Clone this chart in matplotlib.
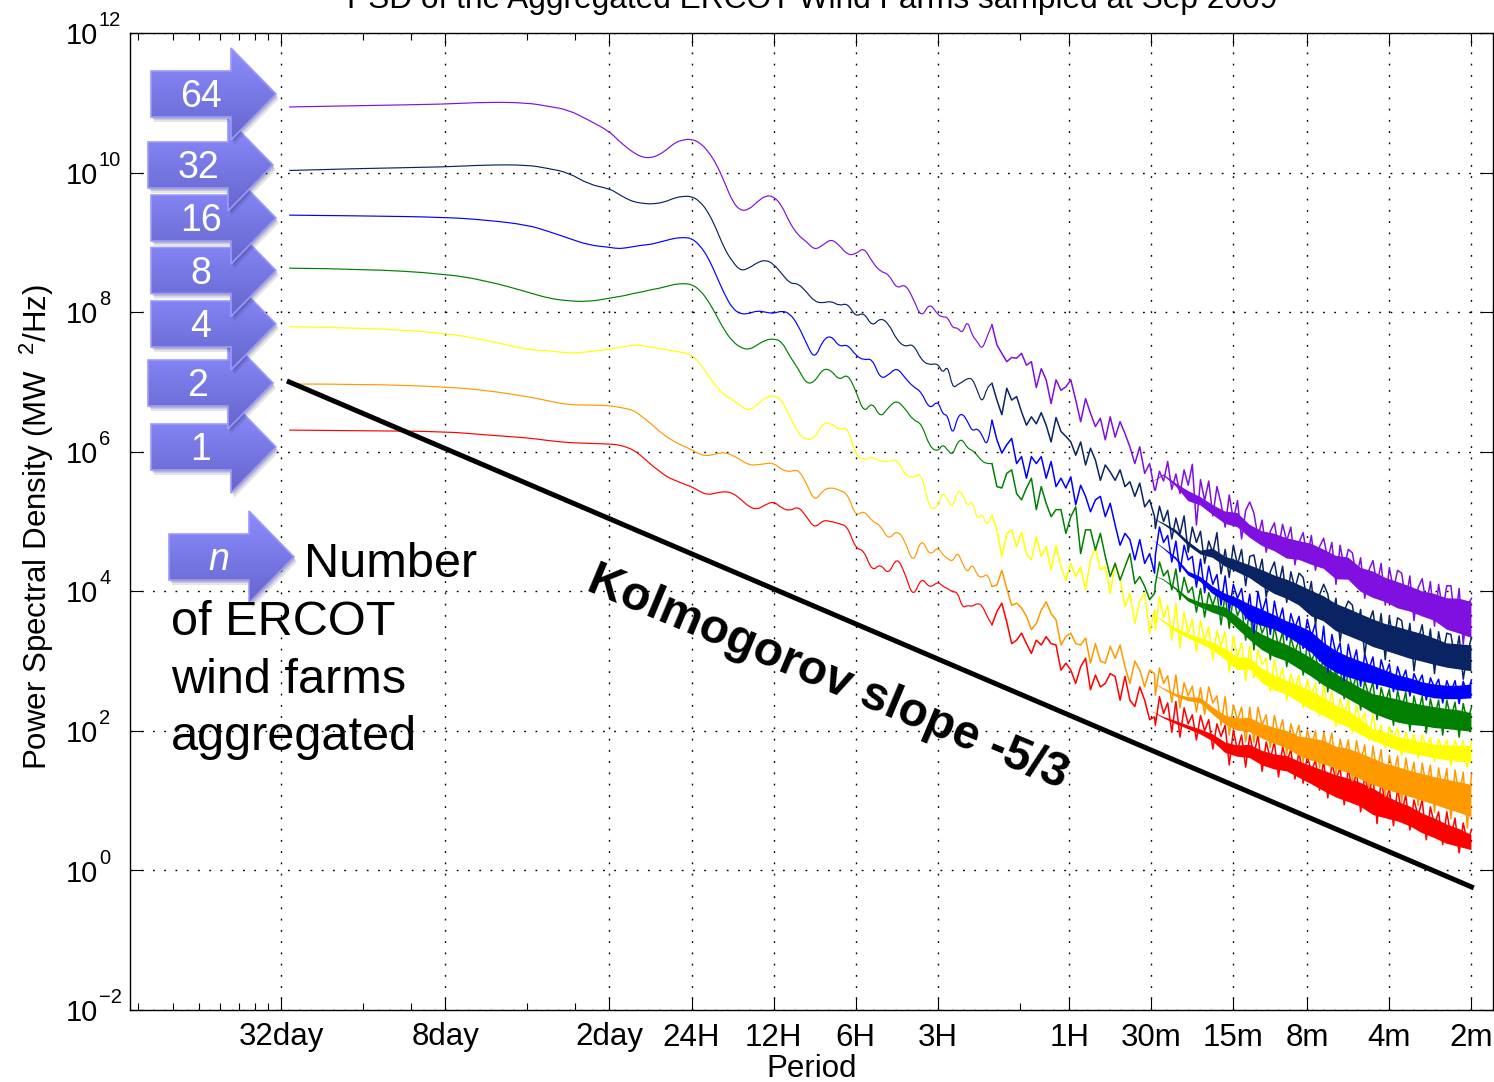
import matplotlib
matplotlib.use('Agg')
import matplotlib.pyplot as plt
import numpy as np
from matplotlib.patches import Polygon, PathPatch
from matplotlib.path import Path
from matplotlib.colors import LinearSegmentedColormap
from matplotlib.ticker import NullLocator

plt.rcParams['font.family'] = ['Liberation Sans', 'DejaVu Sans']
plt.rcParams['mathtext.fontset'] = 'custom'
plt.rcParams['mathtext.rm'] = 'Liberation Sans'

# x is octaves above the 32 day period, psd values are log10(MW^2/Hz)
octave_left = [0.1, 1, 2, 2.5, 3, 3.25, 3.5, 3.75]
octave_mid = np.round(np.arange(40) * 0.1 + 4.0, 2)
octave_fine = np.round(np.arange(45) * 0.06 + 8.0, 2)
octave_noise = np.round(np.arange(78) * 0.05 + 10.65, 2)
octave_band = np.round(np.arange(27) * 0.15 + 10.6, 2)

psd_64 = [10.94, 10.96, 10.98, 11.01, 11.0, 10.95, 10.9, 10.75,
          10.59, 10.47, 10.37, 10.28, 10.22, 10.21, 10.25, 10.33, 10.43, 10.47,
          10.48, 10.43, 10.31, 10.13, 9.87, 9.58, 9.45, 9.47, 9.58, 9.67,
          9.66, 9.53, 9.27, 9.10, 9.01, 8.89, 8.96, 9.05, 8.96, 8.82,
          8.83, 8.93, 8.72, 8.58, 8.55, 8.33, 8.41, 8.20, 7.91, 8.14,
          7.96, 7.93, 7.93, 7.77, 7.78, 7.69, 7.89, 7.66, 7.58, 7.46, 7.65, 7.82,
          7.53, 7.41, 7.29, 7.35, 7.34, 7.41, 7.24, 7.29, 6.92, 7.19, 7.03, 6.69,
          7.03, 6.88, 6.93, 7.03, 6.74, 6.43, 6.76, 6.55, 6.36, 6.48, 6.17, 6.50,
          6.21, 6.43, 6.26, 6.07, 5.83, 6.07, 5.69, 5.83, 5.45]
psd_32 = [10.03, 10.06, 10.08, 10.11, 10.11, 10.06, 10.0, 9.83,
          9.77, 9.70, 9.63, 9.58, 9.56, 9.55, 9.56, 9.59, 9.64, 9.66,
          9.66, 9.59, 9.44, 9.20, 8.91, 8.72, 8.59, 8.63, 8.71, 8.75,
          8.69, 8.55, 8.41, 8.41, 8.29, 8.15, 8.13, 8.16, 8.09, 8.13,
          7.93, 8.0, 7.79, 7.92, 7.84, 7.60, 7.50, 7.55, 7.31, 7.24,
          7.27, 7.12, 7.24, 6.91, 6.96, 7.00, 7.05, 7.05, 6.88, 6.69, 6.92, 6.98,
          6.74, 6.53, 6.91, 6.74, 6.79, 6.57, 6.38, 6.50, 6.40, 6.56, 6.38, 6.14,
          6.49, 6.29, 6.22, 6.14, 5.95, 6.14, 5.81, 6.05, 5.88, 5.59, 5.81, 5.71,
          5.59, 5.74, 5.50, 5.57, 5.36, 5.55, 5.21, 5.31, 5.07]
psd_16 = [9.39, 9.38, 9.36, 9.32, 9.25, 9.16, 9.06, 8.96,
          8.93, 8.91, 8.92, 8.94, 8.96, 8.97, 9.0, 9.03, 9.06, 9.07,
          9.06, 8.96, 8.79, 8.53, 8.26, 8.05, 7.97, 7.98, 8.02, 8.0,
          7.98, 8.02, 7.98, 7.81, 7.55, 7.32, 7.60, 7.67, 7.50, 7.54,
          7.38, 7.31, 7.34, 7.04, 7.10, 7.21, 7.06, 6.93, 6.86, 6.60,
          6.74, 6.53, 6.53, 6.22, 6.50, 6.55, 6.44, 6.29, 6.34, 6.24, 6.07, 6.45,
          6.17, 5.98, 6.10, 6.19, 5.83, 5.93, 5.62, 5.93, 5.83, 5.93, 5.62, 5.86,
          5.50, 5.62, 5.48, 5.64, 5.24, 5.52, 5.36, 5.14, 5.31, 5.36, 5.07, 5.26,
          4.95, 4.66, 4.83, 4.74, 4.45, 4.74, 4.40, 4.54, 4.26]
psd_8 = [8.63, 8.62, 8.55, 8.45, 8.29, 8.20, 8.16, 8.15,
         8.20, 8.22, 8.24, 8.27, 8.29, 8.32, 8.34, 8.37, 8.40, 8.41,
         8.40, 8.32, 8.17, 7.96, 7.74, 7.58, 7.49, 7.46, 7.53, 7.60,
         7.62, 7.58, 7.36, 7.19, 6.97, 7.0, 7.19, 7.17, 7.02, 7.12,
         6.88, 6.55, 6.72, 6.48, 6.64, 6.74, 6.62, 6.45, 6.41, 6.07,
         6.0, 6.11, 6.02, 5.95, 6.14, 6.18, 6.05, 6.02, 5.95, 5.86, 5.83, 5.83,
         5.50, 5.48, 5.69, 5.74, 5.40, 5.31, 5.48, 5.62, 5.17, 5.50, 5.26, 5.07,
         5.17, 5.17, 4.83, 5.07, 5.21, 4.54, 4.88, 4.88, 4.59, 4.83, 4.50, 4.21,
         4.40, 4.16, 4.35, 4.54, 4.11, 4.21, 4.07, 3.88, 3.97]
psd_4 = [7.79, 7.78, 7.70, 7.60, 7.46, 7.45, 7.41, 7.43,
         7.47, 7.49, 7.51, 7.53, 7.52, 7.50, 7.48, 7.46, 7.44, 7.42,
         7.39, 7.27, 7.10, 6.93, 6.81, 6.75, 6.65, 6.59, 6.67, 6.78,
         6.81, 6.74, 6.50, 6.26, 6.17, 6.19, 6.41, 6.41, 6.31, 6.36,
         5.95, 5.88, 5.93, 5.86, 5.86, 5.90, 5.67, 5.62, 5.71, 5.16,
         5.21, 5.43, 5.31, 5.19, 5.45, 5.41, 5.21, 5.31, 5.02, 5.12, 4.93, 5.09,
         4.88, 4.50, 4.83, 4.88, 4.64, 4.85, 4.54, 4.45, 4.78, 4.50, 4.64, 4.31,
         4.66, 4.35, 4.16, 4.40, 4.21, 4.35, 4.02, 4.45, 4.62, 4.31, 4.35, 3.97,
         4.40, 4.19, 3.78, 3.97, 3.54, 3.87, 3.97, 3.40, 3.73]
psd_2 = [6.97, 6.97, 6.93, 6.88, 6.79, 6.73, 6.67, 6.67,
         6.66, 6.64, 6.62, 6.59, 6.50, 6.41, 6.30, 6.21, 6.14, 6.08,
         6.03, 5.96, 5.94, 5.97, 5.99, 5.95, 5.88, 5.81, 5.81, 5.83,
         5.84, 5.74, 5.71, 5.75, 5.55, 5.28, 5.45, 5.49, 5.45, 5.40,
         5.07, 5.16, 5.0, 4.95, 4.73, 4.88, 4.73, 4.38, 4.78, 4.50,
         4.64, 4.52, 4.47, 4.42, 4.57, 4.40, 4.26, 4.40, 4.23, 4.19, 4.26, 4.07,
         4.09, 4.30, 4.04, 3.80, 3.83, 3.76, 3.64, 3.45, 3.54, 3.73, 3.85, 3.68,
         3.59, 3.23, 3.35, 3.40, 3.25, 3.23, 3.33, 2.97, 3.25, 3.0, 2.97, 3.21,
         3.04, 3.23, 2.92, 2.68, 3.0, 2.87, 2.63, 2.87, 2.82]
psd_1 = [6.31, 6.30, 6.29, 6.24, 6.20, 6.16, 6.13, 6.12,
         6.11, 6.10, 6.07, 6.02, 5.93, 5.82, 5.73, 5.64, 5.59, 5.54,
         5.50, 5.43, 5.38, 5.41, 5.43, 5.41, 5.32, 5.21, 5.17, 5.24,
         5.29, 5.19, 5.15, 5.22, 5.07, 4.90, 5.02, 5.0, 4.97, 4.93,
         4.61, 4.59, 4.28, 4.40, 4.23, 4.50, 4.26, 3.90, 4.21, 4.04,
         4.14, 4.07, 4.04, 3.99, 3.99, 3.76, 3.80, 3.78, 3.83, 3.80, 3.64, 3.52,
         3.71, 3.83, 3.56, 3.25, 3.30, 3.40, 3.25, 3.11, 3.30, 3.23, 3.35, 3.25,
         3.23, 2.87, 2.97, 2.87, 2.68, 2.92, 3.04, 2.59, 2.80, 2.63, 2.68, 2.82,
         2.78, 2.44, 2.78, 2.44, 2.35, 2.63, 2.44, 2.16, 2.20]

# fast end of each spectrum, estimated swing by swing
noise_64 = [5.45, 5.72, 5.58, 5.86, 5.46, 5.68, 5.40, 5.74, 5.52, 5.82, 4.95, 5.60,
            5.30, 5.58, 5.08, 5.50, 5.26, 4.92, 5.38, 5.02, 5.30, 4.75, 5.16, 5.28,
            5.12, 4.78, 5.02, 4.56, 4.86, 4.98, 4.62, 4.96, 4.72, 4.92, 4.38, 4.70,
            4.84, 4.48, 4.80, 4.30, 4.64, 4.76, 4.46, 4.70, 4.10, 4.66, 4.34, 4.60,
            4.55, 4.20, 4.48, 3.90, 4.30, 4.44, 4.10, 4.40, 3.80, 4.34, 4.02, 4.30,
            4.26, 3.86, 4.22, 3.58, 4.05, 4.18, 3.80, 4.14, 3.50, 4.10, 3.72, 4.08,
            4.08, 3.56, 4.04, 3.24, 3.78, 3.90]
noise_32 = [4.90, 5.22, 5.00, 5.16, 4.75, 5.05, 4.82, 5.08, 4.56, 4.92, 4.70, 4.86,
            4.40, 4.72, 4.55, 4.84, 4.25, 4.60, 4.20, 4.66, 4.38, 4.60, 4.08, 4.50,
            4.52, 4.22, 4.46, 3.92, 4.28, 4.42, 4.08, 4.36, 3.84, 4.28, 4.04, 4.26,
            4.20, 3.85, 4.14, 3.52, 3.95, 4.10, 3.96, 3.60, 3.90, 3.28, 3.72, 3.86,
            3.80, 3.40, 3.74, 3.08, 3.55, 3.72, 3.30, 3.68, 3.02, 3.64, 3.25, 3.62,
            3.58, 3.15, 3.54, 2.86, 3.30, 3.52, 3.05, 3.46, 2.82, 3.42, 3.10, 3.40,
            3.38, 3.02, 3.36, 2.74, 3.10, 3.34]
noise_16 = [4.52, 4.92, 4.70, 4.80, 4.42, 4.72, 4.28, 4.66, 4.45, 4.50, 4.06, 4.46,
            3.98, 4.36, 4.10, 4.24, 3.80, 4.22, 3.72, 4.10, 3.90, 4.04, 3.60, 3.96,
            3.40, 4.00, 3.70, 3.90, 3.38, 3.86, 3.55, 3.76, 3.30, 3.68, 3.48, 3.64,
            3.18, 3.60, 3.35, 3.54, 3.00, 3.50, 2.84, 3.38, 3.10, 3.26, 2.72, 3.24,
            2.95, 3.16, 2.64, 3.10, 2.88, 3.06, 2.60, 3.02, 2.80, 2.96, 2.56, 2.92,
            2.72, 2.87, 2.50, 2.82, 2.68, 2.80, 2.44, 2.76, 2.62, 2.74, 2.40, 2.72,
            2.55, 2.72, 2.39, 2.71, 2.52, 2.73]
noise_8 = [4.10, 4.42, 4.22, 4.30, 4.02, 4.32, 3.88, 4.20, 3.98, 4.06, 3.70, 4.04,
           3.63, 3.98, 3.80, 3.99, 3.52, 3.96, 3.47, 3.93, 3.65, 3.80, 3.30, 3.78,
           3.16, 3.63, 3.40, 3.54, 3.02, 3.50, 3.20, 3.42, 2.92, 3.34, 3.12, 3.32,
           2.80, 3.24, 3.00, 3.14, 2.68, 3.12, 2.56, 3.02, 2.78, 2.92, 2.46, 2.88,
           2.60, 2.80, 2.30, 2.72, 2.50, 2.70, 2.16, 2.62, 2.40, 2.60, 2.08, 2.58,
           2.30, 2.56, 2.00, 2.50, 2.24, 2.50, 1.97, 2.46, 2.20, 2.44, 1.94, 2.44,
           2.18, 2.41, 1.91, 2.39, 2.12, 2.34]
noise_4 = [3.45, 3.92, 3.62, 3.80, 3.30, 3.83, 3.19, 3.70, 3.40, 3.60, 3.13, 3.58,
           3.30, 3.49, 3.02, 3.44, 3.22, 3.42, 2.84, 3.36, 3.05, 3.26, 2.72, 3.22,
           2.76, 3.16, 2.95, 3.04, 2.56, 3.02, 2.70, 2.90, 2.44, 2.82, 2.60, 2.80,
           2.33, 2.73, 2.50, 2.68, 2.21, 2.66, 2.30, 2.56, 2.06, 2.46, 2.25, 2.44,
           1.97, 2.36, 2.12, 2.26, 1.87, 2.24, 1.92, 2.08, 1.76, 2.06, 1.90, 2.04,
           1.65, 1.98, 1.80, 1.95, 1.61, 1.94, 1.76, 1.90, 1.56, 1.88, 1.72, 1.87,
           1.51, 1.86, 1.70, 1.86, 1.47, 1.85]
noise_2 = [2.51, 2.90, 2.68, 2.79, 2.41, 2.80, 2.33, 2.69, 2.50, 2.64, 2.27, 2.62,
           2.24, 2.63, 2.40, 2.50, 2.08, 2.49, 1.94, 2.37, 2.15, 2.34, 1.84, 2.34,
           1.83, 2.34, 2.08, 2.23, 1.76, 2.22, 1.95, 2.16, 1.67, 2.10, 1.90, 2.08,
           1.55, 2.01, 1.78, 2.00, 1.47, 1.98, 1.70, 1.97, 1.38, 1.88, 1.62, 1.87,
           1.28, 1.86, 1.55, 1.80, 1.18, 1.78, 1.40, 1.73, 1.06, 1.65, 1.35, 1.64,
           0.98, 1.61, 1.28, 1.55, 0.93, 1.54, 1.20, 1.51, 0.84, 1.47, 1.12, 1.46,
           0.74, 1.44, 1.05, 1.41, 0.61, 1.38]
noise_1 = [2.08, 2.49, 2.25, 2.40, 1.98, 2.42, 1.91, 2.33, 2.10, 2.23, 1.87, 2.22,
           2.00, 2.16, 1.74, 2.10, 1.92, 2.08, 1.51, 2.01, 1.72, 1.94, 1.48, 1.94,
           1.65, 1.94, 1.42, 1.84, 1.60, 1.84, 1.34, 1.77, 1.55, 1.73, 1.31, 1.72,
           1.25, 1.64, 1.42, 1.58, 1.15, 1.58, 1.04, 1.53, 1.30, 1.47, 0.94, 1.47,
           1.12, 1.43, 0.84, 1.37, 1.08, 1.36, 0.67, 1.30, 0.95, 1.18, 0.64, 1.18,
           0.82, 1.08, 0.58, 1.01, 0.78, 1.01, 0.44, 0.91, 0.65, 0.84, 0.37, 0.84,
           0.48, 0.75, 0.25, 0.68, 0.40, 0.58]

# top and bottom of the noisy band
upper_64 = [5.74, 5.88, 5.74, 5.85, 5.59, 5.45, 5.35, 5.31, 5.09, 4.99, 4.95, 4.88, 4.81, 4.78,
            4.69, 4.62, 4.59, 4.45, 4.41, 4.31, 4.26, 4.19, 4.12, 4.09, 4.05, 4.06, 4.02]
lower_64 = [5.38, 5.45, 5.31, 4.88, 4.99, 4.88, 4.76, 4.73, 4.63, 4.52, 4.45, 4.35, 4.36, 4.28,
            4.23, 4.06, 4.06, 3.88, 3.78, 3.73, 3.63, 3.59, 3.52, 3.45, 3.30, 3.23, 3.16]
upper_32 = [5.24, 5.19, 5.09, 4.88, 4.69, 4.81, 4.66, 4.59, 4.51, 4.45, 4.36, 4.28, 4.19, 4.13,
            4.05, 3.95, 3.88, 3.80, 3.73, 3.66, 3.62, 3.57, 3.52, 3.45, 3.37, 3.36, 3.35]
lower_32 = [4.88, 4.74, 4.62, 4.49, 4.42, 4.28, 4.19, 4.12, 4.05, 3.92, 3.83, 3.78, 3.70, 3.52,
            3.45, 3.30, 3.23, 3.16, 3.07, 3.02, 2.96, 2.90, 2.86, 2.82, 2.79, 2.76, 2.73]
upper_16 = [4.95, 4.78, 4.66, 4.45, 4.35, 4.23, 4.09, 4.03, 3.99, 3.88, 3.76, 3.66, 3.59, 3.52,
            3.37, 3.25, 3.16, 3.09, 3.02, 2.94, 2.87, 2.82, 2.76, 2.73, 2.71, 2.71, 2.73]
lower_16 = [4.55, 4.45, 4.28, 4.06, 3.99, 3.80, 3.73, 3.63, 3.39, 3.36, 3.35, 3.27, 3.16, 3.02,
            2.84, 2.73, 2.67, 2.62, 2.59, 2.56, 2.51, 2.49, 2.44, 2.40, 2.39, 2.39, 2.40]
upper_8 = [4.42, 4.31, 4.19, 4.06, 3.98, 3.98, 3.93, 3.80, 3.63, 3.52, 3.42, 3.33, 3.23, 3.13,
           3.02, 2.90, 2.80, 2.70, 2.62, 2.59, 2.56, 2.51, 2.47, 2.44, 2.41, 2.39, 2.34]
lower_8 = [4.06, 4.02, 3.88, 3.70, 3.63, 3.52, 3.47, 3.30, 3.16, 3.02, 2.94, 2.90, 2.80, 2.69,
           2.56, 2.47, 2.37, 2.27, 2.16, 2.08, 2.01, 1.98, 1.97, 1.94, 1.93, 1.91, 1.90]
upper_4 = [3.95, 3.83, 3.70, 3.59, 3.49, 3.43, 3.36, 3.23, 3.16, 3.02, 2.90, 2.80, 2.73, 2.66,
           2.56, 2.44, 2.36, 2.24, 2.08, 2.04, 1.98, 1.94, 1.90, 1.87, 1.86, 1.86, 1.86]
lower_4 = [3.45, 3.30, 3.19, 3.13, 3.09, 2.99, 2.84, 2.70, 2.76, 2.56, 2.47, 2.44, 2.33, 2.21,
           2.13, 2.04, 1.97, 1.87, 1.80, 1.73, 1.65, 1.61, 1.58, 1.54, 1.51, 1.48, 1.47]
upper_2 = [2.90, 2.79, 2.69, 2.64, 2.63, 2.49, 2.37, 2.34, 2.34, 2.23, 2.16, 2.10, 2.01, 2.0,
           1.97, 1.88, 1.86, 1.80, 1.73, 1.65, 1.61, 1.55, 1.51, 1.47, 1.44, 1.41, 1.38]
lower_2 = [2.51, 2.41, 2.33, 2.27, 2.24, 2.08, 1.94, 1.84, 1.83, 1.76, 1.70, 1.65, 1.55, 1.47,
           1.41, 1.35, 1.28, 1.18, 1.10, 1.04, 0.98, 0.93, 0.87, 0.81, 0.74, 0.68, 0.61]
upper_1 = [2.49, 2.40, 2.33, 2.23, 2.16, 2.10, 2.01, 1.94, 1.94, 1.84, 1.77, 1.73, 1.64, 1.58,
           1.53, 1.47, 1.43, 1.37, 1.30, 1.18, 1.08, 1.01, 0.91, 0.84, 0.75, 0.68, 0.58]
lower_1 = [2.08, 1.98, 1.91, 1.87, 1.81, 1.70, 1.51, 1.48, 1.47, 1.38, 1.34, 1.33, 1.25, 1.15,
           1.04, 0.94, 0.87, 0.80, 0.67, 0.64, 0.61, 0.54, 0.44, 0.37, 0.29, 0.25, 0.22]

kolmogorov_octave = [0.1, 14.5]
kolmogorov_psd = [7.0, -0.236]

farm_counts = ['1', '2', '4', '8', '16', '32', '64']
line_colors = ['#ff0000', '#ff9900', '#ffff00', '#007f00', '#0000ff', '#0a2463', '#7f10e0']
lines = [psd_1, psd_2, psd_4, psd_8, psd_16, psd_32, psd_64]
noises = [noise_1, noise_2, noise_4, noise_8, noise_16, noise_32, noise_64]
uppers = [upper_1, upper_2, upper_4, upper_8, upper_16, upper_32, upper_64]
lowers = [lower_1, lower_2, lower_4, lower_8, lower_16, lower_32, lower_64]

tick_octaves = [0, 2, 4, 5, 6, 7, 8, 9.6, 10.6, 11.6, 12.5, 13.5, 14.5]
tick_labels = ['32day', '8day', '2day', '24H', '12H', '6H', '3H', '1H', '30m', '15m', '8m', '4m', '2m']
minor_octaves = [-1.74, -1.32, -1.0, -0.74, -0.51, -0.32, -0.16, 1, 1.585, 3, 3.585, 9.0]
decades = list(range(-2, 13, 2))

W, H = 1494, 1082
N_SMOOTH = 8 + 40 + 12  # round curve up to about 2H, plain line after that


def to_x(octave):
    return 2.0 ** np.asarray(octave, dtype=float)


def smooth_path(octave, psd):
    # quadratic bezier through the midpoints, keeps the slow part of the curve round
    px = np.asarray(octave, dtype=float)
    py = np.asarray(psd, dtype=float)
    verts = [(px[0], py[0])]
    codes = [Path.MOVETO]
    for i in range(1, len(px) - 1):
        verts.append((px[i], py[i]))
        verts.append(((px[i] + px[i + 1]) / 2, (py[i] + py[i + 1]) / 2))
        codes += [Path.CURVE3, Path.CURVE3]
    verts.append((px[-1], py[-1]))
    codes.append(Path.LINETO)
    verts = np.array(verts)
    return Path(np.column_stack([to_x(verts[:, 0]), 10.0 ** verts[:, 1]]), codes)


def draw_arrow(ov, left, cy, label, base_z, italic=False):
    # body 80 wide, 46 high, head runs 46 past it
    pts = [(left, cy - 23), (left + 80, cy - 23), (left + 80, cy - 46), (left + 125, cy),
           (left + 80, cy + 46), (left + 80, cy + 23), (left, cy + 23)]
    for off in [(1, 2), (2, 3), (3, 5)]:
        ov.add_patch(Polygon([(x + off[0], y + off[1]) for x, y in pts], closed=True, fc='#20204a',
                             ec='none', alpha=0.12, zorder=base_z))
    grad = np.linspace(0, 1, 64).reshape(-1, 1)
    cmap = LinearSegmentedColormap.from_list('arrow', ['#8c8cff', '#6666cc'])
    im = ov.imshow(grad, extent=(left, left + 125, cy + 46, cy - 46), aspect='auto', zorder=base_z + 0.1,
                   cmap=cmap, origin='upper')
    im.set_clip_path(Polygon(pts, closed=True, transform=ov.transData))
    ov.add_patch(Polygon(pts, closed=True, fc='none', ec='#9a9aff', lw=1.2, zorder=base_z + 0.2))
    ov.text(left + 50, cy + 3, label, color='white', fontsize=27, ha='center', va='center',
            zorder=base_z + 0.3, style='italic' if italic else 'normal')


fig = plt.figure(figsize=(W / 100, H / 100), dpi=100)
ax = fig.add_axes([130 / W, 1 - 1010 / H, (1493 - 130) / W, (1010 - 33) / H])
ax.set_xscale('log', base=2)
ax.set_yscale('log')

octave_line = np.concatenate([octave_left, octave_mid, octave_fine])
# the solid part of a band grows in from nothing at 30m, edges stay jagged from the noise line
band_inset = np.interp(np.arange(27), [0, 12], [0.5, 0.2])
for psd, noise, up, low, color in zip(lines, noises, uppers, lowers, line_colors):
    ax.add_patch(PathPatch(smooth_path(octave_line[:N_SMOOTH], psd[:N_SMOOTH]), fc='none', ec=color,
                           lw=0.85, zorder=3))
    rough_x = np.r_[octave_line[N_SMOOTH - 1:], octave_noise]
    rough_y = np.r_[psd[N_SMOOTH - 1:], noise]
    ax.plot(to_x(rough_x), 10.0 ** rough_y, color=color, lw=1.1, zorder=3)
    up = np.array(up)
    low = np.array(low)
    ax.fill_between(to_x(octave_band), 10.0 ** (low + band_inset * (up - low)),
                    10.0 ** (up - band_inset * (up - low)), facecolor=color, edgecolor='none', zorder=3)
ax.plot(to_x(kolmogorov_octave), 10.0 ** np.array(kolmogorov_psd), color='black', lw=3.6, zorder=4)

ax.set_xlim(to_x((130 - 281) / 82.1), to_x((1493 - 281) / 82.1))
ax.set_ylim(1e-2, 1e12)
ax.set_xticks(to_x(tick_octaves))
ax.set_xticklabels(tick_labels, fontsize=22.5)
ax.set_xticks(to_x(minor_octaves), minor=True)
ax.set_xticklabels([], minor=True)
ax.set_yticks([10.0 ** d for d in decades])
ax.set_yticklabels([])
ax.yaxis.set_minor_locator(NullLocator())
ax.tick_params(axis='both', which='major', direction='in', top=True, right=True, length=9.6, width=0.8, pad=9)
ax.tick_params(axis='x', which='minor', direction='in', top=True, length=4.8, width=0.8)
ax.grid(True, which='major', color='black', lw=1.0, linestyle=(0, (1.3, 6.8)))
ax.set_axisbelow(True)
for s in ax.spines.values():
    s.set_linewidth(1.0)

ax.set_xlabel('Period', fontsize=22.5, labelpad=1)
fig.text(812 / W, 1 - 8 / H, 'PSD of the Aggregated ERCOT Wind Farms sampled at Sep 2009',
         ha='center', va='baseline', fontsize=22.8)

# arrows and notes sit on top, in image pixel coordinates
ov = fig.add_axes([0, 0, 1, 1], facecolor='none')
ov.axis('off')
arrow_left = [151, 148, 151, 151, 151, 148, 151]
arrow_y = [447, 383, 324, 270.5, 218, 165, 94]
for i, (lab, left, cy) in enumerate(zip(farm_counts, arrow_left, arrow_y)):
    draw_arrow(ov, left, cy, lab, base_z=3 + i)
draw_arrow(ov, 169, 557, 'n', base_z=3, italic=True)
ov.set_xlim(0, W)
ov.set_ylim(H, 0)

# decade labels as two texts, the exponent stands well clear of the 10
for d in decades:
    py = 870.5 - 69.8 * d
    ov.text(66, py + 11, '10', fontsize=21, va='baseline', ha='left')
    ov.text(99, py - 7, str(d).replace('-', '\u2212'), fontsize=14.5, va='baseline', ha='left')

ov.text(37, 527, 'Power Spectral Density (MW $\\mathregular{^{\\ 2}}$/Hz)', fontsize=22.5, rotation=90,
        ha='center', va='center')
ov.text(304, 577, 'Number', fontsize=35, va='baseline', zorder=12)
for txt, yy in zip(['of ERCOT', 'wind farms', 'aggregated'], [635, 693, 750]):
    ov.text(171, yy, txt, fontsize=35, va='baseline', zorder=12)
ov.text(828, 678, 'Kolmogorov slope -5/3', fontsize=34.5, fontweight='bold', rotation=-22.7,
        rotation_mode='anchor', ha='center', va='center', zorder=12)

plt.savefig('out.png', dpi=100)
